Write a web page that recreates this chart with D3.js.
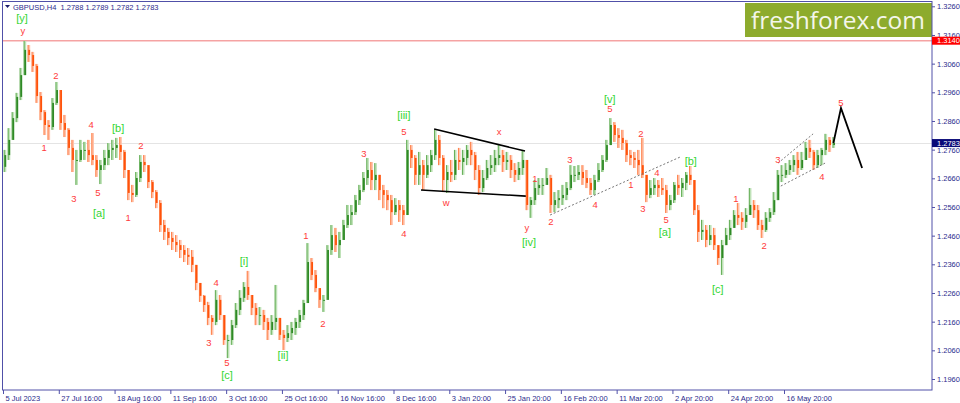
<!DOCTYPE html>
<html><head><meta charset="utf-8">
<script src="https://cdn.jsdelivr.net/npm/d3@7"></script>
<style>
body{margin:0;background:#fff}
svg{display:block}
text{font-family:"Liberation Sans",Arial,sans-serif}
</style>
</head><body>
<svg id="c" width="960" height="403"></svg>
<script>
// ---------------- data ----------------
const symbolText = "GBPUSD,H4";
const lastOHLC = ["1.2788", "1.2789", "1.2782", "1.2783"];
const startOpen = 1.2700;
const highs = [
1.2759,1.2835,1.2891,1.2958,1.3045,1.3139,1.3125,1.3101,1.3059,1.2961,
1.2898,1.2863,1.2940,1.2996,1.2961,1.2881,1.2835,1.2794,1.2759,1.2794,
1.2787,1.2794,1.2818,1.2741,1.2724,1.2759,1.2783,1.2794,1.2801,1.2804,
1.2759,1.2689,1.2637,1.2682,1.2741,1.2741,1.2706,1.2654,1.2619,1.2584,
1.2515,1.2487,1.2473,1.2462,1.2445,1.2427,1.2417,1.2410,1.2358,1.2295,
1.2253,1.2229,1.2183,1.2270,1.2253,1.2183,1.2114,1.2166,1.2225,1.2270,
1.2298,1.2337,1.2253,1.2225,1.2211,1.2201,1.2173,1.2183,1.2288,1.2173,
1.2131,1.2148,1.2159,1.2173,1.2201,1.2236,1.2434,1.2382,1.2340,1.2277,
1.2253,1.2427,1.2497,1.2487,1.2473,1.2515,1.2567,1.2567,1.2602,1.2637,
1.2682,1.2731,1.2717,1.2713,1.2672,1.2637,1.2619,1.2602,1.2591,1.2584,
1.2567,1.2794,1.2776,1.2741,1.2752,1.2724,1.2741,1.2759,1.2829,1.2811,
1.2741,1.2706,1.2724,1.2759,1.2766,1.2759,1.2776,1.2787,1.2752,1.2706,
1.2689,1.2724,1.2741,1.2759,1.2776,1.2759,1.2752,1.2741,1.2713,1.2717,
1.2759,1.2706,1.2595,1.2654,1.2661,1.2661,1.2696,1.2672,1.2612,1.2619,
1.2637,1.2647,1.2706,1.2703,1.2706,1.2706,1.2689,1.2661,1.2672,1.2713,
1.2741,1.2794,1.2870,1.2856,1.2835,1.2829,1.2794,1.2759,1.2752,1.2759,
1.2801,1.2661,1.2654,1.2661,1.2654,1.2661,1.2637,1.2602,1.2647,1.2672,
1.2661,1.2682,1.2703,1.2647,1.2567,1.2515,1.2497,1.2497,1.2487,1.2427,
1.2445,1.2487,1.2515,1.2549,1.2574,1.2542,1.2556,1.2626,1.2584,1.2567,
1.2515,1.2542,1.2556,1.2612,1.2689,1.2706,1.2713,1.2724,1.2741,1.2752,
1.2752,1.2787,1.2794,1.2759,1.2759,1.2766,1.2815,1.2804,1.2804];
const lows = [
1.2682,1.2724,1.2794,1.2856,1.2933,1.3020,1.3066,1.3031,1.2923,1.2863,
1.2811,1.2794,1.2829,1.2916,1.2829,1.2804,1.2741,1.2682,1.2637,1.2717,
1.2724,1.2717,1.2706,1.2665,1.2640,1.2689,1.2706,1.2724,1.2731,1.2724,
1.2661,1.2584,1.2577,1.2595,1.2647,1.2682,1.2626,1.2591,1.2556,1.2473,
1.2445,1.2427,1.2410,1.2403,1.2382,1.2368,1.2358,1.2333,1.2270,1.2229,
1.2194,1.2148,1.2114,1.2148,1.2166,1.2079,1.2033,1.2079,1.2138,1.2183,
1.2229,1.2236,1.2183,1.2148,1.2148,1.2131,1.2096,1.2114,1.2131,1.2096,
1.2061,1.2089,1.2096,1.2114,1.2138,1.2166,1.2236,1.2305,1.2263,1.2208,
1.2194,1.2243,1.2393,1.2403,1.2382,1.2445,1.2487,1.2497,1.2532,1.2567,
1.2612,1.2637,1.2619,1.2619,1.2584,1.2556,1.2549,1.2497,1.2532,1.2508,
1.2497,1.2532,1.2696,1.2637,1.2637,1.2619,1.2661,1.2682,1.2724,1.2706,
1.2612,1.2609,1.2647,1.2654,1.2689,1.2672,1.2706,1.2706,1.2654,1.2602,
1.2612,1.2654,1.2672,1.2682,1.2706,1.2682,1.2689,1.2661,1.2647,1.2654,
1.2672,1.2549,1.2522,1.2567,1.2602,1.2602,1.2637,1.2539,1.2542,1.2556,
1.2567,1.2584,1.2619,1.2647,1.2654,1.2637,1.2626,1.2602,1.2602,1.2647,
1.2682,1.2717,1.2776,1.2787,1.2766,1.2759,1.2717,1.2706,1.2696,1.2672,
1.2661,1.2577,1.2591,1.2602,1.2595,1.2602,1.2539,1.2549,1.2574,1.2602,
1.2595,1.2619,1.2637,1.2532,1.2438,1.2445,1.2420,1.2427,1.2410,1.2358,
1.2323,1.2427,1.2445,1.2487,1.2497,1.2480,1.2487,1.2532,1.2522,1.2480,
1.2452,1.2473,1.2508,1.2532,1.2584,1.2647,1.2661,1.2672,1.2682,1.2672,
1.2689,1.2724,1.2731,1.2689,1.2696,1.2706,1.2741,1.2752,1.2766];
const closes = [
1.2741,1.2794,1.2870,1.2944,1.3020,1.3108,1.3090,1.3052,1.2947,1.2891,
1.2846,1.2839,1.2923,1.2968,1.2853,1.2829,1.2766,1.2724,1.2724,1.2759,
1.2759,1.2741,1.2724,1.2689,1.2706,1.2731,1.2759,1.2766,1.2776,1.2752,
1.2689,1.2609,1.2602,1.2661,1.2717,1.2706,1.2647,1.2612,1.2574,1.2497,
1.2473,1.2452,1.2438,1.2427,1.2410,1.2393,1.2386,1.2358,1.2295,1.2250,
1.2218,1.2173,1.2159,1.2236,1.2183,1.2096,1.2096,1.2148,1.2201,1.2243,
1.2281,1.2253,1.2208,1.2183,1.2183,1.2159,1.2131,1.2159,1.2173,1.2114,
1.2103,1.2120,1.2138,1.2159,1.2183,1.2225,1.2368,1.2323,1.2277,1.2236,
1.2236,1.2410,1.2462,1.2427,1.2445,1.2497,1.2532,1.2542,1.2584,1.2619,
1.2661,1.2689,1.2654,1.2672,1.2619,1.2602,1.2584,1.2542,1.2567,1.2549,
1.2532,1.2759,1.2731,1.2672,1.2706,1.2672,1.2706,1.2741,1.2794,1.2731,
1.2654,1.2682,1.2672,1.2724,1.2717,1.2731,1.2759,1.2741,1.2689,1.2626,
1.2661,1.2696,1.2706,1.2731,1.2741,1.2717,1.2724,1.2689,1.2672,1.2696,
1.2724,1.2567,1.2584,1.2626,1.2637,1.2637,1.2661,1.2567,1.2584,1.2591,
1.2602,1.2626,1.2672,1.2672,1.2682,1.2661,1.2644,1.2619,1.2654,1.2689,
1.2724,1.2776,1.2846,1.2811,1.2801,1.2783,1.2741,1.2731,1.2724,1.2706,
1.2672,1.2602,1.2626,1.2637,1.2626,1.2619,1.2567,1.2584,1.2637,1.2626,
1.2644,1.2672,1.2654,1.2549,1.2473,1.2480,1.2445,1.2462,1.2427,1.2382,
1.2427,1.2462,1.2487,1.2532,1.2522,1.2508,1.2532,1.2567,1.2549,1.2497,
1.2480,1.2522,1.2542,1.2584,1.2672,1.2672,1.2689,1.2706,1.2724,1.2696,
1.2724,1.2766,1.2752,1.2706,1.2741,1.2759,1.2794,1.2776,1.2783];

const timeLabels = ["5 Jul 2023","27 Jul 16:00","18 Aug 16:00","11 Sep 16:00","3 Oct 16:00",
  "25 Oct 16:00","16 Nov 16:00","8 Dec 16:00","3 Jan 20:00","25 Jan 20:00","16 Feb 20:00",
  "11 Mar 20:00","2 Apr 20:00","24 Apr 20:00","16 May 20:00"];
const barsPerLabel = 14;
const priceTicks = [1.1960,1.2060,1.2160,1.2260,1.2360,1.2460,1.2560,1.2660,1.2760,1.2860,1.2960,1.3060,1.3160,1.3260];
const markedLevel = 1.3140;
const currentPrice = 1.2783;

// wave labels: [text, bar index, price, kind]
const waveLabels = [
 ["[y]",4.8,1.3219,"g"],["y",5.0,1.3174,"r"],["1",10.3,1.2769,"r"],["2",13.3,1.3020,"r"],
 ["3",17.8,1.2591,"r"],["4",22.1,1.2846,"r"],["5",23.8,1.2609,"r"],["[a]",24.1,1.2539,"g"],
 ["[b]",28.9,1.2835,"g"],["1",31.4,1.2522,"r"],["2",34.6,1.2776,"r"],
 ["3",51.7,1.2089,"r"],["4",53.5,1.2298,"r"],["5",56.2,1.2016,"r"],["[c]",56.2,1.1974,"g"],
 ["[i]",60.5,1.2372,"g"],["[ii]",70.3,1.2044,"g"],["1",76.0,1.2459,"r"],["2",80.3,1.2155,"r"],
 ["3",90.6,1.2748,"r"],["4",100.6,1.2469,"r"],["5",100.6,1.2822,"r"],["[iii]",100.6,1.2880,"g"],
 ["w",111.2,1.2574,"r"],["x",124.5,1.2822,"r"],["y",131.5,1.2490,"r"],["[iv]",132.0,1.2438,"g"],
 ["1",133.5,1.2661,"r"],["2",137.5,1.2508,"r"],["3",142.3,1.2724,"r"],["4",148.6,1.2570,"r"],
 ["5",152.3,1.2902,"r"],["[v]",152.3,1.2938,"g"],["1",157.6,1.2637,"r"],["2",160.1,1.2818,"r"],
 ["3",160.6,1.2553,"r"],["4",164.1,1.2679,"r"],["5",166.4,1.2518,"r"],["[a]",166.1,1.2474,"g"],
 ["[b]",172.6,1.2720,"g"],["[c]",179.4,1.2274,"g"],["1",183.9,1.2588,"r"],["2",191.0,1.2424,"r"],
 ["3",194.5,1.2724,"r"],["4",205.5,1.2668,"r"],["5",210.3,1.2926,"r"]
];
// trend lines: [[i1,p1],[i2,p2]]
const triangleLines = [[[108.2,1.2832],[131.0,1.2755]], [[104.9,1.2619],[131.2,1.2598]]];
const dottedLines = [[[137.3,1.2532],[169.9,1.2734]], [[194.5,1.2713],[203.3,1.2815]], [[195.2,1.2633],[206.3,1.2713]]];
const projection = [[208.4,1.2783],[210.3,1.2905],[215.6,1.2696]];

// ---------------- chart ----------------
const W = 960, H = 403;
const plot = {left: 3, right: 932, top: 2, bottom: 390};
const svg = d3.select("#c");
const x = d3.scaleLinear().domain([0, barsPerLabel * (timeLabels.length - 1)]).range([3, 784]);
const y = d3.scaleLinear().domain([1.1960, 1.3260]).range([379, 6.3]);
const bw = x(1) - x(0);

svg.append("rect").attr("width", W).attr("height", H).attr("fill", "#fff");

// logo
svg.append("rect").attr("x", 745).attr("y", 3).attr("width", plot.right - 745).attr("height", 34).attr("fill", "#8dab2d");
svg.append("text").attr("x", 838).attr("y", 28.5).attr("text-anchor", "middle")
  .attr("fill", "#f4f6ea").style("font-family", "'Open Sans',sans-serif").style("font-size", "24.5px")
  .text("freshforex.com");

// level lines
svg.append("line").attr("x1", plot.left).attr("x2", plot.right).attr("y1", y(markedLevel)).attr("y2", y(markedLevel))
  .attr("stroke", "#f5a3a3").attr("stroke-width", 1.6);
svg.append("line").attr("x1", plot.left).attr("x2", plot.right).attr("y1", Math.round(y(currentPrice)) + 0.5).attr("y2", Math.round(y(currentPrice)) + 0.5)
  .attr("stroke", "#e4e4e4").attr("stroke-width", 1);

// candles
const candles = closes.map((c, i) => ({i, o: i ? closes[i - 1] : startOpen, h: highs[i], l: lows[i], c}));
const g = svg.append("g");
const cTop = d => y(Math.max(d.h, d.o, d.c)), cBot = d => y(Math.min(d.l, d.o, d.c));
g.selectAll("rect.w").data(candles).join("rect")
  .attr("x", d => x(d.i) + bw / 2 - 1.3).attr("width", 2.6)
  .attr("y", cTop).attr("height", d => Math.max(1, cBot(d) - cTop(d)))
  .attr("fill", d => d.c >= d.o ? "#bfe2b8" : "#ffc2ab");
g.selectAll("line.w").data(candles).join("line")
  .attr("x1", d => x(d.i) + bw / 2 - 0.8).attr("x2", d => x(d.i) + bw / 2 - 0.8)
  .attr("y1", cTop).attr("y2", cBot)
  .attr("stroke", d => d.c >= d.o ? "#5aa84c" : "#ff7a40").attr("stroke-width", 0.9);
g.selectAll("rect.b").data(candles).join("rect")
  .attr("x", d => x(d.i) + bw / 2 - 0.6).attr("width", 1.8)
  .attr("y", d => y(Math.max(d.o, d.c))).attr("height", d => Math.max(1, Math.abs(y(d.o) - y(d.c))))
  .attr("fill", d => d.c >= d.o ? "#2f8a26" : "#ff520a");

// trend lines
const lineGen = d3.line().x(d => x(d[0])).y(d => y(d[1]));
triangleLines.forEach(l => svg.append("path").attr("d", lineGen(l)).attr("fill", "none").attr("stroke", "#000").attr("stroke-width", 1.6));
dottedLines.forEach(l => svg.append("path").attr("d", lineGen(l)).attr("fill", "none").attr("stroke", "#777").attr("stroke-width", 1).attr("stroke-dasharray", "2,2"));
svg.append("path").attr("d", lineGen(projection)).attr("fill", "none").attr("stroke", "#000").attr("stroke-width", 1.8);

// wave labels
svg.selectAll("text.wl").data(waveLabels).join("text")
  .attr("x", d => x(d[1])).attr("y", d => y(d[2])).attr("text-anchor", "middle").attr("dominant-baseline", "central")
  .attr("fill", d => d[3] === "g" ? "#33d633" : "#ff3b3b")
  .style("font-size", d => d[3] === "g" ? "11px" : "9.5px")
  .text(d => d[0]);

// frame
svg.append("rect").attr("x", plot.left - 0.5).attr("y", plot.top - 0.5).attr("width", plot.right - plot.left + 0.5).attr("height", plot.bottom - plot.top + 0.5)
  .attr("fill", "none").attr("stroke", "#5050a8").attr("stroke-width", 1);

// right axis
const axR = svg.append("g").attr("transform", `translate(${plot.right},0)`)
  .call(d3.axisRight(y).tickValues(priceTicks).tickFormat(d3.format(".4f")).tickSize(3).tickPadding(2));
axR.select(".domain").remove();
axR.selectAll("line").attr("stroke", "#5050a8");
axR.selectAll("text").attr("fill", "#2b2b8c").style("font-size", "7.5px").style("font-family", "'Liberation Sans',Arial,sans-serif");

// bottom axis
const axB = svg.append("g").attr("transform", `translate(0,${plot.bottom})`)
  .call(d3.axisBottom(x).tickValues(timeLabels.map((t, k) => k * barsPerLabel)).tickFormat((d, k) => timeLabels[k]).tickSize(4).tickPadding(2));
axB.select(".domain").remove();
axB.selectAll("line").attr("stroke", "#5050a8");
axB.selectAll("text").attr("text-anchor", "start").attr("dx", 2).attr("fill", "#2b2b8c")
  .style("font-size", "7.5px").style("font-family", "'Liberation Sans',Arial,sans-serif");

// price boxes
function priceBox(p, fill) {
  const yy = y(p);
  svg.append("rect").attr("x", plot.right).attr("y", yy - 4).attr("width", W - plot.right).attr("height", 8).attr("fill", fill);
  svg.append("text").attr("x", plot.right + 5).attr("y", yy).attr("dominant-baseline", "central")
    .attr("fill", "#fff").style("font-size", "7.5px").text(p.toFixed(4));
}
priceBox(markedLevel, "#f00");
priceBox(currentPrice, "#0a0a78");

// header
svg.append("path").attr("d", "M5,5 L10,5 L7.5,8 Z").attr("fill", "#1a1a6a");
svg.append("text").attr("x", 13).attr("y", 9.5).attr("fill", "#2b2b8c").style("font-size", "7.5px")
  .attr("xml:space", "preserve").text(symbolText + "  " + lastOHLC.join(" "));
</script>
</body></html>
